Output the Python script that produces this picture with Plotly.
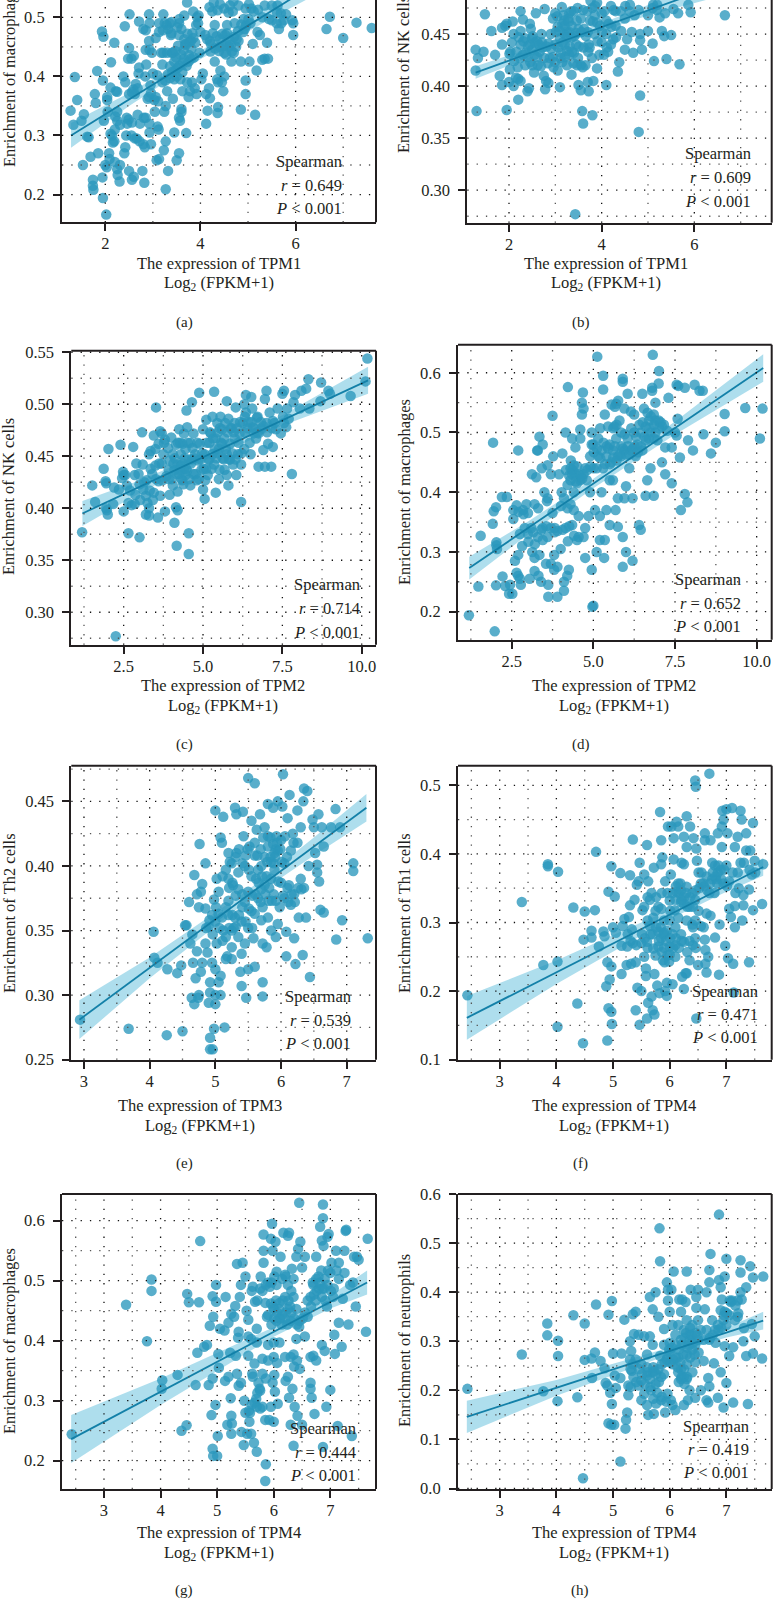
import plotly.graph_objects as go

W, H = 773, 1599

tpm1_macro = [(1.27,.342),(1.33,.318),(1.36,.399),(1.41,.360),(1.50,.325),(1.55,.336),(1.53,.250),(1.62,.298),(1.65,.297),(1.69,.264),(1.78,.370),(1.80,.355),(1.74,.225),(1.74,.215),(1.75,.208),(1.85,.270),(1.83,.409),(1.93,.476),(1.96,.467),(1.95,.393),(1.94,.229),(1.95,.194),(2.02,.166),(2.0,.25),(2.03,.246),(2.04,.365),(2.04,.36),(1.97,.325),(2.05,.34),(2.12,.424),(2.11,.381),(2.19,.457),(2.25,.374),(2.22,.375),(2.08,.27),(2.09,.26),(2.14,.30),(2.16,.288),(2.19,.29),(2.2,.31),(2.25,.34),(2.25,.325),(2.2,.255),(2.25,.243),(2.26,.233),(2.3,.222),(2.31,.25),(2.38,.40),(2.42,.39),(2.46,.32),(2.45,.33),(2.44,.30),(2.4,.27),(2.42,.28),(2.5,.24),(2.56,.225),(2.6,.23),(2.51,.505),(2.41,.485),(2.5,.448),(2.48,.43),(2.55,.43),(2.6,.435),(2.5,.37),(2.55,.30),(2.62,.295),(2.66,.295),(2.72,.29),(2.62,.37),(2.68,.38),(2.7,.405),(2.71,.415),(2.71,.493),(2.8,.48),(2.85,.478),(2.68,.335),(2.73,.32),(2.81,.33),(2.85,.33),(2.8,.285),(2.83,.28),(2.84,.4),(2.82,.22),(2.78,.24),(2.85,.445),(2.86,.42),(2.92,.505),(2.93,.49),(2.92,.46),(2.93,.445),(2.98,.44),(3.0,.405),(2.95,.385),(2.92,.365),(2.93,.32),(2.93,.305),(2.96,.285),(3.04,.34),(3.03,.36),(3.06,.365),(3.1,.315),(3.12,.31),(3.13,.26),(3.08,.258),(3.13,.475),(3.06,.465),(3.13,.49),(3.18,.44),(3.2,.42),(3.2,.39),(3.22,.44),(3.22,.505),(3.25,.49),(3.27,.29),(3.23,.275),(3.24,.34),(3.27,.35),(3.3,.375),(3.32,.48),(3.3,.44),(3.32,.24),(3.27,.209),(3.4,.44),(3.42,.362),(3.45,.395),(3.45,.305),(3.5,.258),(3.55,.27),(3.35,.49),(3.38,.47),(3.42,.44),(3.45,.425),(3.47,.41),(3.5,.40),(3.52,.415),(3.55,.47),(3.55,.49),(3.58,.395),(3.6,.48),(3.6,.345),(3.55,.33),(3.57,.325),(3.6,.34),(3.62,.375),(3.65,.43),(3.65,.445),(3.68,.455),(3.7,.304),(3.72,.39),(3.72,.525),(3.75,.365),(3.75,.425),(3.78,.375),(3.8,.43),(3.8,.46),(3.82,.39),(3.85,.51),(3.85,.465),(3.88,.38),(3.92,.37),(3.93,.50),(3.95,.49),(3.98,.44),(4.0,.475),(4.02,.395),(4.05,.405),(4.1,.47),(4.12,.37),(4.15,.342),(4.12,.32),(4.18,.38),(4.2,.363),(4.2,.46),(4.22,.455),(4.25,.51),(4.28,.525),(4.3,.487),(4.3,.425),(4.35,.395),(4.37,.39),(4.37,.348),(4.36,.338),(4.4,.45),(4.42,.41),(4.45,.39),(4.48,.375),(4.5,.40),(4.5,.44),(4.52,.47),(4.55,.455),(4.6,.45),(4.62,.52),(4.65,.425),(4.68,.51),(4.7,.44),(4.72,.49),(4.75,.45),(4.8,.46),(4.85,.425),(4.85,.344),(4.9,.475),(4.93,.48),(4.95,.393),(4.95,.37),(4.95,.515),(5.03,.425),(5.05,.49),(5.07,.515),(5.1,.455),(5.12,.51),(5.15,.335),(5.2,.475),(5.18,.41),(5.25,.47),(5.3,.428),(5.35,.43),(5.4,.457),(5.42,.43),(5.5,.495),(5.6,.49),(5.62,.52),(5.65,.48),(5.7,.49),(5.75,.495),(5.8,.505),(5.95,.49),(5.95,.47),(5.93,.495),(6.65,.48),(6.72,.501),(7.0,.465),(7.28,.491),(7.6,.482),(5.3,.50),(5.35,.52),(5.5,.52),(4.8,.52),(4.5,.515),
(3.31,.403),(3.36,.417),(3.41,.408),(3.47,.443),(3.49,.432),(3.56,.418),(3.53,.452),(3.62,.407),(3.59,.437),(3.66,.463),(3.64,.423),(3.71,.418),(3.69,.453),(3.73,.472),(3.76,.436),(3.77,.458),(3.81,.447),(3.83,.473),(3.86,.432),(3.91,.487),(3.89,.457),(3.96,.503),(4.14,.463),(4.21,.442),(4.26,.473),(4.31,.447),(4.34,.468),(4.41,.463),(4.46,.472),(4.49,.452),(4.56,.473),(4.61,.462),(4.64,.453),(4.71,.467),(4.76,.463),(4.79,.477),(4.86,.488),(4.91,.497),(4.96,.486),(5.01,.497),(4.66,.442),(4.54,.437),(4.39,.443),(3.29,.487),(3.21,.478),(3.39,.473),(2.89,.362),(2.96,.372),(3.11,.358),(2.64,.387),(2.59,.378),(2.56,.373),(3.09,.402),(3.26,.393),(3.36,.397),(3.51,.483),(3.39,.492),(3.56,.497),(3.66,.503),(4.19,.517),(4.36,.512),(4.41,.522),(4.59,.508),(4.56,.487),(4.69,.527),(5.02,.522),(5.21,.513),(5.44,.497),(5.69,.507),(5.61,.508),(2.21,.332),(2.31,.318),(2.11,.303),(2.49,.327),(2.56,.322)]

tpm1_nk = [(1.3,.376),(1.28,.415),(1.28,.435),(1.33,.427),(1.45,.433),(1.48,.469),(1.62,.453),(1.7,.43),(1.8,.41),(1.85,.401),(1.85,.44),(1.85,.456),(1.92,.458),(1.95,.46),(2.0,.404),(1.95,.377),(2.02,.416),(2.03,.433),(2.08,.462),(2.1,.40),(2.1,.45),(2.15,.408),(2.2,.407),(2.2,.387),(2.25,.405),(2.25,.44),(2.25,.453),(2.25,.472),(2.3,.464),(2.3,.43),(2.35,.42),(2.4,.395),(2.43,.398),(2.45,.44),(2.45,.46),(2.47,.455),(2.5,.42),(2.5,.435),(2.55,.43),(2.58,.47),(2.62,.42),(2.65,.44),(2.7,.45),(2.75,.41),(2.78,.397),(2.77,.474),(2.8,.405),(2.85,.403),(2.88,.427),(2.9,.45),(2.95,.465),(3,.47),(3.0,.44),(3.05,.415),(3.1,.399),(3.12,.432),(3.15,.46),(3.2,.44),(3.2,.45),(3.25,.42),(3.28,.465),(3.3,.43),(3.3,.47),(3.35,.447),(3.35,.411),(3.4,.472),(3.45,.44),(3.47,.42),(3.48,.475),(3.5,.401),(3.5,.455),(3.55,.396),(3.55,.465),(3.55,.42),(3.58,.376),(3.6,.364),(3.62,.455),(3.65,.42),(3.7,.404),(3.72,.395),(3.72,.44),(3.75,.463),(3.8,.475),(3.8,.372),(3.82,.405),(3.85,.45),(3.9,.417),(3.95,.43),(3.9,.48),(4,.47),(4.05,.43),(4.1,.401),(4.1,.45),(4.15,.46),(4.2,.44),(4.25,.445),(4.3,.472),(4.35,.414),(4.38,.423),(4.42,.453),(4.5,.435),(4.5,.465),(4.55,.445),(4.65,.452),(4.68,.432),(4.8,.356),(4.83,.391),(4.83,.45),(4.83,.444),(4.87,.435),(5,.453),(5.1,.441),(5.13,.424),(5.1,.475),(5.3,.453),(5.35,.448),(5.37,.47),(5.4,.426),(5.5,.449),(5.55,.474),(5.65,.47),(5.68,.421),(5.87,.478),(5.92,.471),(6.66,.468),(3.43,.277),(2.35,.446),(2.6,.443),(2.72,.437),(2.85,.441),(2.95,.428),(3.05,.457),(3.1,.446),(3.15,.423),(3.18,.468),(3.25,.452),(3.25,.434),(3.35,.458),(3.4,.432),(3.45,.451),(3.6,.473),(3.7,.452),(3.85,.468),(3.9,.461),(4.0,.442),(4.1,.463),(4.2,.477),(4.3,.458),(4.6,.472),(4.8,.473),(5.0,.468),(5.2,.478),(5.25,.466),(3.3,.452),(3.2,.458),(2.4,.428),(2.5,.446),
(2.01,.431),(2.06,.442),(2.11,.424),(2.16,.433),(2.21,.447),(2.19,.418),(2.24,.427),(2.31,.443),(2.36,.432),(2.41,.438),(2.46,.423),(2.51,.448),(2.56,.442),(2.54,.413),(2.61,.428),(2.66,.433),(2.69,.419),(2.71,.442),(2.76,.427),(2.81,.438),(2.84,.422),(2.91,.436),(2.96,.418),(3.01,.452),(2.99,.423),(3.06,.437),(3.04,.467),(3.11,.427),(3.09,.453),(3.16,.442),(3.14,.476),(3.21,.428),(3.19,.463),(3.26,.447),(3.31,.438),(3.29,.462),(3.36,.433),(3.34,.472),(3.41,.448),(3.39,.422),(3.46,.463),(3.51,.438),(3.49,.427),(3.56,.452),(3.61,.437),(3.59,.418),(3.66,.448),(3.71,.433),(3.69,.472),(3.76,.482),(3.74,.437),(3.81,.462),(3.79,.427),(3.86,.477),(3.91,.443),(3.96,.458),(4.01,.452),(4.06,.472),(4.11,.437),(4.14,.433),(4.21,.457),(4.26,.473),(4.31,.447),(4.41,.472),(4.51,.477),(4.61,.478),(4.71,.468),(5.11,.478),(5.19,.473)]

tpm2_nk = [(1.19,.377),(1.51,.422),(1.6,.406),(1.87,.438),(1.93,.426),(1.95,.424),(1.95,.40),(1.97,.398),(2.0,.394),(2.02,.457),(2.17,.404),(2.4,.461),(2.8,.459),(2.25,.277),(2.65,.376),(3.0,.372),(2.5,.397),(2.48,.435),(2.45,.429),(2.5,.432),(2.55,.432),(2.35,.418),(2.2,.42),(3.08,.473),(3.3,.393),(3.3,.40),(3.58,.391),(3.52,.497),(3.65,.474),(3.45,.47),(3.8,.397),(4.1,.386),(4.17,.364),(4.55,.376),(4.55,.356),(4.15,.401),(4.2,.398),(4.48,.494),(4.65,.502),(4.88,.511),(5.35,.512),(5.05,.409),(5.4,.415),(5.75,.503),(6.03,.497),(5.8,.422),(6.2,.406),(6.35,.509),(6.3,.50),(6.75,.44),(6.95,.44),(7.15,.44),(7.8,.433),(7.2,.459),(7.5,.51),(7.55,.513),(7.9,.509),(8.1,.513),(8.25,.515),(8.32,.524),(8.72,.521),(9.0,.51),(9.65,.508),(10.12,.522),(10.18,.544),(7.0,.513),(6.95,.505),(2.6,.422),(2.65,.405),(2.7,.417),(2.75,.403),(2.85,.404),(2.85,.432),(2.9,.443),(3.0,.423),(3.1,.442),(3.15,.425),(3.2,.412),(3.2,.394),(3.25,.405),(3.3,.452),(3.35,.455),(3.35,.438),(3.4,.433),(3.45,.415),(3.5,.457),(3.5,.441),(3.6,.426),(3.6,.462),(3.65,.412),(3.7,.472),(3.7,.443),(3.75,.452),(3.8,.466),(3.85,.431),(3.9,.458),(3.95,.413),(3.95,.446),(4.0,.468),(4.05,.422),(4.05,.452),(4.1,.437),(4.15,.461),(4.2,.442),(4.2,.416),(4.25,.433),(4.25,.476),(4.3,.452),(4.35,.462),(4.35,.427),(4.4,.438),(4.4,.472),(4.45,.457),(4.5,.436),(4.5,.478),(4.55,.447),(4.6,.422),(4.6,.463),(4.7,.433),(4.7,.472),(4.75,.452),(4.8,.427),(4.85,.446),(4.9,.462),(4.95,.437),(5.0,.418),(5.0,.476),(5.05,.452),(5.1,.438),(5.1,.485),(5.15,.432),(5.2,.463),(5.25,.472),(5.3,.452),(5.3,.488),(5.35,.442),(5.4,.467),(5.45,.482),(5.5,.457),(5.5,.428),(5.55,.488),(5.6,.462),(5.65,.447),(5.7,.482),(5.75,.452),(5.75,.432),(5.8,.486),(5.85,.462),(5.9,.477),(5.95,.442),(6.0,.467),(6.0,.482),(6.05,.432),(6.1,.452),(6.15,.472),(6.2,.442),(6.25,.482),(6.3,.457),(6.35,.492),(6.4,.477),(6.5,.452),(6.55,.496),(6.6,.472),(6.7,.487),(6.75,.472),(6.85,.477),(6.9,.456),(7.0,.482),(7.05,.462),(7.1,.492),(7.25,.482),(7.3,.476),(7.35,.496),(7.45,.472),(7.55,.482),(7.65,.496),(7.7,.486),(7.85,.502),(8.05,.496),(8.35,.496),(8.7,.503),(8.95,.513),(4.3,.441),(4.45,.432),(4.65,.447),(5.2,.447),(5.45,.453),(5.6,.476),(5.85,.447),(6.6,.477),(6.9,.479),(7.2,.484),
(3.92,.437),(4.02,.428),(4.07,.443),(4.11,.448),(4.17,.433),(4.21,.463),(4.27,.437),(4.32,.428),(4.28,.463),(4.37,.443),(4.42,.448),(4.38,.423),(4.47,.438),(4.52,.463),(4.57,.428),(4.62,.443),(4.67,.458),(4.72,.448),(4.77,.433),(4.82,.463),(4.87,.428),(4.92,.447),(4.97,.453),(5.02,.438),(5.07,.427),(5.12,.463),(5.17,.447),(5.22,.473),(5.27,.438),(5.32,.467),(5.37,.457),(5.42,.448),(5.47,.473),(5.52,.437),(5.57,.463),(5.53,.477),(5.62,.448),(5.67,.467),(5.72,.457),(5.68,.437),(5.77,.473),(5.82,.447),(5.87,.477),(5.92,.453),(5.97,.473),(6.02,.447),(6.07,.477),(6.12,.463),(6.17,.483),(6.22,.453),(6.32,.473),(6.42,.483),(6.47,.463),(6.57,.478),(6.67,.467),(6.72,.473),(6.82,.483),(7.02,.473),(7.17,.477),(3.02,.408),(3.12,.418),(3.22,.427),(3.32,.417),(3.42,.408),(3.52,.428),(3.62,.443),(3.72,.427),(3.77,.463),(3.92,.428),(2.87,.413),(2.97,.433),(6.32,.488),(6.52,.507),(6.72,.488),(6.52,.483),(7.52,.488),(7.62,.478)]

tpm2_macro = [(1.19,.194),(1.48,.242),(1.55,.327),(1.93,.483),(1.92,.347),(1.95,.368),(2.02,.375),(2.03,.311),(2.03,.316),(2.05,.305),(2.02,.244),(1.98,.167),(2.2,.392),(2.35,.392),(2.22,.259),(2.3,.243),(2.42,.23),(2.45,.245),(2.52,.23),(2.55,.37),(2.55,.355),(2.6,.285),(2.65,.265),(2.7,.295),(2.7,.47),(2.65,.378),(2.7,.26),(2.75,.255),(2.78,.245),(2.75,.33),(2.82,.31),(2.85,.37),(2.9,.34),(2.95,.38),(3.0,.365),(3.05,.255),(3.12,.43),(3.13,.30),(3.2,.29),(3.25,.425),(3.2,.38),(3.2,.268),(3.28,.47),(3.3,.47),(3.35,.493),(3.32,.26),(3.35,.295),(3.4,.25),(3.42,.44),(3.45,.48),(3.45,.32),(3.5,.40),(3.55,.28),(3.58,.385),(3.6,.445),(3.62,.225),(3.62,.245),(3.7,.43),(3.7,.28),(3.75,.528),(3.77,.46),(3.8,.27),(3.8,.295),(3.82,.34),(3.9,.225),(3.9,.275),(3.95,.43),(4.0,.305),(4.03,.40),(4.05,.465),(4.1,.25),(4.1,.235),(4.15,.50),(4.2,.26),(4.22,.318),(4.25,.27),(4.22,.576),(4.3,.44),(4.3,.42),(4.35,.43),(4.35,.49),(4.4,.445),(4.4,.37),(4.45,.475),(4.5,.415),(4.5,.32),(4.55,.36),(4.55,.43),(4.6,.49),(4.6,.505),(4.65,.55),(4.68,.567),(4.7,.54),(4.65,.53),(4.7,.43),(4.75,.34),(4.75,.29),(4.8,.42),(4.85,.36),(4.9,.40),(4.95,.48),(4.95,.50),(4.95,.27),(5.0,.21),(4.97,.208),(5.0,.44),(5.05,.37),(5.1,.30),(5.1,.44),(5.12,.627),(5.15,.49),(5.2,.36),(5.2,.32),(5.25,.47),(5.25,.40),(5.3,.595),(5.3,.572),(5.33,.29),(5.35,.53),(5.35,.32),(5.4,.37),(5.45,.51),(5.5,.345),(5.5,.48),(5.55,.45),(5.6,.42),(5.65,.51),(5.68,.37),(5.7,.548),(5.75,.342),(5.75,.39),(5.8,.52),(5.85,.46),(5.9,.585),(5.9,.59),(5.95,.54),(5.9,.325),(5.9,.275),(6.0,.30),(6.0,.41),(6.05,.565),(6.1,.44),(6.15,.535),(6.2,.285),(6.2,.39),(6.25,.53),(6.3,.46),(6.4,.345),(6.45,.337),(6.5,.565),(6.55,.54),(6.6,.394),(6.65,.42),(6.7,.49),(6.75,.44),(6.8,.57),(6.8,.575),(6.85,.53),(6.9,.55),(6.9,.52),(7.01,.603),(6.82,.63),(7.0,.582),(7.3,.558),(7.6,.578),(7.55,.58),(7.8,.575),(7.58,.523),(8.1,.58),(8.25,.57),(8.35,.57),(8.37,.497),(7.9,.487),(8.05,.47),(8.6,.465),(8.75,.483),(9.02,.531),(9.02,.502),(9.65,.541),(10.18,.54),(10.1,.49),(7.65,.458),(7.4,.415),(7.2,.43),(7.1,.45),(7.8,.397),(7.88,.383),(7.68,.37),(6.85,.394),(5.95,.39),(3.0,.33),(3.1,.34),(3.3,.325),(3.45,.34),(3.6,.325),(3.7,.34),(3.9,.335),(4.15,.34),(4.35,.345),(4.55,.325),(4.7,.325),(3.6,.39),(3.75,.365),(4.1,.39),(4.3,.38),(4.4,.40),(4.6,.42),(4.75,.44),(4.9,.46),(5.0,.48),(5.15,.46),(5.3,.44),(5.4,.46),(5.5,.42),(5.6,.47),(5.7,.49),(5.75,.46),(5.85,.50),(5.95,.47),(6.05,.49),(6.15,.47),(6.25,.50),(6.35,.48),(6.45,.50),(6.5,.47),(6.6,.51),(6.7,.52),(6.75,.50),(6.85,.49),(6.9,.50),(7.0,.52),(7.1,.51),(7.2,.475),(7.4,.475),(7.5,.50),(7.55,.495),
(4.16,.437),(4.21,.412),(4.26,.428),(4.31,.453),(4.36,.437),(4.41,.433),(4.46,.418),(4.51,.443),(4.61,.427),(4.66,.423),(4.81,.437),(4.91,.443),(5.01,.467),(5.11,.473),(5.21,.457),(5.31,.483),(5.36,.447),(5.41,.477),(5.46,.473),(5.51,.447),(5.61,.458),(5.66,.477),(5.71,.453),(5.81,.463),(5.86,.477),(5.91,.473),(5.96,.497),(6.01,.463),(6.06,.477),(6.11,.463),(6.16,.507),(6.21,.473),(6.26,.477),(6.31,.493),(6.36,.467),(6.41,.513),(6.46,.477),(6.51,.517),(6.56,.493),(6.61,.487),(6.66,.533),(6.71,.507),(6.76,.527),(6.86,.513),(6.96,.487),(7.01,.507),(7.06,.517),(7.16,.513),(7.26,.503),(5.56,.547),(5.66,.543),(5.76,.553),(5.61,.507),(5.71,.513),(5.21,.507),(3.16,.333),(3.41,.337),(3.56,.343),(3.81,.333),(4.06,.337),(4.26,.343),(4.41,.327),(3.21,.313),(3.01,.317),(3.31,.373),(4.01,.377),(4.21,.373),(2.71,.367),(2.86,.363)]

tpm3_th2 = [(2.94,.281),(3.68,.274),(4.26,.269),(4.5,.272),(4.06,.349),(4.07,.329),(4.12,.325),(4.27,.32),(4.42,.317),(4.48,.323),(4.54,.354),(4.56,.354),(4.6,.372),(4.62,.34),(4.65,.347),(4.68,.293),(4.64,.298),(4.66,.325),(4.7,.313),(4.72,.334),(4.72,.378),(4.74,.298),(4.75,.3),(4.75,.368),(4.76,.417),(4.68,.393),(4.8,.386),(4.78,.318),(4.8,.325),(4.78,.38),(4.85,.367),(4.85,.34),(4.85,.402),(4.88,.333),(4.9,.294),(4.92,.267),(4.92,.258),(4.96,.258),(4.92,.302),(4.92,.31),(4.95,.325),(4.98,.374),(5.0,.293),(4.98,.274),(5.0,.3),(5.0,.32),(5.0,.443),(5.02,.39),(5.02,.34),(5.05,.38),(5.08,.422),(5.05,.31),(5.08,.315),(5.1,.36),(5.1,.418),(5.12,.35),(5.08,.30),(5.14,.275),(5.12,.438),(5.16,.345),(5.2,.41),(5.2,.373),(5.18,.33),(5.2,.39),(5.22,.403),(5.25,.35),(5.25,.337),(5.25,.328),(5.27,.385),(5.3,.445),(5.3,.36),(5.32,.44),(5.32,.41),(5.35,.395),(5.35,.345),(5.38,.318),(5.4,.332),(5.42,.442),(5.4,.307),(5.43,.423),(5.45,.4),(5.45,.34),(5.47,.298),(5.5,.38),(5.5,.468),(5.5,.32),(5.52,.415),(5.55,.365),(5.55,.435),(5.58,.344),(5.6,.464),(5.62,.39),(5.6,.322),(5.63,.428),(5.65,.375),(5.68,.44),(5.7,.4),(5.72,.31),(5.72,.299),(5.72,.34),(5.75,.385),(5.75,.43),(5.78,.337),(5.8,.448),(5.8,.415),(5.8,.36),(5.85,.39),(5.85,.35),(5.88,.445),(5.9,.41),(5.92,.345),(5.95,.45),(5.95,.355),(6.0,.42),(6.02,.446),(6.03,.471),(6.05,.375),(6.08,.349),(6.08,.33),(6.1,.437),(6.12,.385),(6.13,.455),(6.15,.37),(6.18,.425),(6.2,.344),(6.22,.324),(6.25,.443),(6.27,.36),(6.3,.43),(6.3,.39),(6.33,.331),(6.34,.45),(6.35,.46),(6.38,.36),(6.4,.458),(6.42,.4),(6.44,.314),(6.48,.436),(6.5,.43),(6.52,.41),(6.55,.401),(6.55,.395),(6.57,.44),(6.58,.388),(6.6,.366),(6.62,.43),(6.65,.364),(6.65,.415),(6.76,.43),(6.84,.343),(6.83,.444),(6.9,.43),(6.93,.358),(7.1,.402),(7.1,.396),(7.32,.344),(5.25,.402),(5.35,.382),(5.45,.372),(5.55,.392),(5.6,.408),(5.65,.397),(5.7,.382),(5.72,.368),(5.75,.407),(5.78,.392),(5.82,.383),(5.85,.403),(5.88,.417),(5.9,.397),(5.92,.373),(5.95,.412),(5.98,.368),(6.05,.402),(6.1,.383),(6.15,.412),(6.2,.378),(5.2,.362),(5.28,.352),(5.4,.357),(5.5,.352),(5.6,.363),(5.7,.358),(5.0,.357),(4.95,.362),(5.05,.363),(4.9,.353),(5.6,.418),(5.8,.423),(5.92,.413),(6.0,.387),(6.25,.418),(6.35,.383),
(5.31,.407),(5.36,.413),(5.41,.402),(5.46,.408),(5.51,.397),(5.49,.413),(5.56,.377),(5.61,.378),(5.66,.387),(5.64,.408),(5.69,.372),(5.71,.392),(5.69,.413),(5.73,.422),(5.76,.378),(5.81,.373),(5.79,.403),(5.84,.407),(5.86,.373),(5.84,.422),(5.89,.402),(5.91,.407),(5.89,.378),(5.93,.423),(5.96,.388),(5.94,.418),(6.01,.403),(5.99,.413),(6.03,.377),(6.06,.423),(6.11,.372),(6.09,.407),(6.16,.378),(6.21,.372),(6.19,.418),(6.26,.383),(6.31,.382),(5.31,.377),(5.36,.362),(5.41,.378),(5.46,.357),(5.51,.367),(5.56,.352),(5.26,.362),(5.21,.352),(5.16,.368),(5.06,.352),(5.01,.368),(4.96,.347),(4.91,.358),(4.86,.352),(5.11,.342),(5.16,.328),(5.31,.353),(5.41,.368),(5.11,.392),(5.16,.397),(5.21,.383),(5.26,.387)]

tpm4_th1 = [(2.43,.194),(3.39,.33),(3.77,.238),(3.85,.385),(3.85,.382),(4.03,.374),(4.02,.243),(4.02,.148),(4.3,.322),(4.37,.182),(4.47,.124),(4.48,.275),(4.5,.316),(4.62,.288),(4.62,.278),(4.68,.318),(4.7,.403),(4.75,.265),(4.83,.287),(4.85,.28),(4.88,.207),(4.9,.128),(4.9,.242),(4.92,.345),(4.92,.175),(4.94,.217),(4.97,.236),(4.97,.17),(4.97,.382),(4.98,.152),(5.0,.293),(5.03,.338),(5.05,.285),(5.15,.266),(5.15,.225),(5.13,.372),(5.17,.295),(5.2,.305),(5.24,.238),(5.25,.265),(5.28,.308),(5.3,.369),(5.3,.325),(5.32,.24),(5.33,.29),(5.35,.421),(5.35,.27),(5.38,.333),(5.4,.242),(5.4,.172),(5.42,.355),(5.43,.205),(5.45,.36),(5.47,.151),(5.47,.387),(5.5,.2),(5.5,.27),(5.52,.318),(5.55,.25),(5.55,.37),(5.58,.233),(5.58,.222),(5.6,.413),(5.6,.16),(5.62,.183),(5.62,.36),(5.65,.295),(5.68,.192),(5.68,.343),(5.7,.172),(5.72,.38),(5.73,.166),(5.73,.225),(5.78,.208),(5.8,.265),(5.82,.197),(5.83,.461),(5.85,.42),(5.85,.385),(5.85,.32),(5.87,.395),(5.88,.245),(5.9,.285),(5.92,.2),(5.92,.36),(5.95,.193),(5.97,.44),(5.95,.212),(6.0,.265),(6.02,.37),(6.03,.44),(6.05,.21),(6.07,.392),(6.07,.423),(6.1,.25),(6.12,.345),(6.12,.447),(6.15,.44),(6.2,.33),(6.22,.221),(6.25,.425),(6.25,.385),(6.25,.203),(6.28,.226),(6.3,.226),(6.3,.41),(6.3,.455),(6.35,.245),(6.36,.44),(6.4,.297),(6.42,.423),(6.45,.507),(6.46,.498),(6.47,.408),(6.47,.16),(6.48,.39),(6.5,.238),(6.52,.35),(6.55,.295),(6.62,.43),(6.62,.42),(6.62,.275),(6.63,.24),(6.63,.26),(6.65,.227),(6.68,.25),(6.7,.517),(6.72,.42),(6.72,.31),(6.8,.278),(6.85,.43),(6.87,.224),(6.88,.297),(6.92,.44),(6.92,.41),(6.93,.463),(6.95,.45),(6.98,.266),(7.0,.465),(7.02,.43),(7.03,.248),(7.05,.32),(7.05,.36),(7.08,.308),(7.1,.467),(7.12,.24),(7.13,.198),(7.15,.293),(7.15,.324),(7.15,.41),(7.2,.425),(7.22,.35),(7.25,.463),(7.27,.45),(7.28,.303),(7.3,.34),(7.3,.325),(7.35,.405),(7.35,.43),(7.4,.242),(7.4,.348),(7.42,.405),(7.45,.37),(7.47,.318),(7.47,.445),(7.5,.39),(7.63,.327),(7.65,.385),(5.6,.272),(5.7,.283),(5.75,.252),(5.8,.287),(5.85,.277),(5.9,.263),(5.95,.288),(6.0,.253),(6.05,.283),(6.1,.267),(6.15,.307),(6.2,.283),(6.25,.272),(6.35,.273),(6.45,.277),(6.0,.332),(6.05,.343),(6.1,.333),(6.15,.357),(6.2,.347),(6.25,.327),(6.3,.352),(6.35,.323),(6.4,.343),(6.45,.333),(6.55,.357),(6.65,.367),(6.7,.343),(6.75,.363),(6.8,.383),(6.85,.373),(6.9,.377),(6.95,.357),(7.0,.383),(5.55,.323),(5.65,.333),(5.75,.317),(5.8,.323),(5.9,.303),(6.0,.303),(6.1,.293),(6.3,.303),(6.45,.303),(6.6,.293),(6.65,.313),(6.75,.387),(6.82,.363),(7.2,.373),(7.25,.387),
(5.56,.277),(5.61,.263),(5.66,.283),(5.71,.262),(5.76,.293),(5.81,.273),(5.86,.257),(5.84,.293),(5.91,.242),(5.89,.283),(5.96,.252),(5.94,.273),(6.01,.277),(5.99,.243),(6.06,.263),(6.11,.277),(6.16,.263),(6.21,.273),(6.31,.257),(6.41,.267),(6.46,.263),(5.96,.343),(6.01,.317),(6.11,.353),(6.09,.318),(6.16,.343),(6.21,.333),(6.19,.357),(6.26,.337),(6.31,.323),(6.29,.343),(6.36,.337),(6.41,.323),(6.46,.347),(6.51,.317),(6.61,.353),(6.71,.357),(6.76,.373),(6.81,.367),(6.86,.383),(6.84,.357),(6.91,.363),(6.96,.377),(6.79,.343),(6.59,.357),(6.56,.373),(6.51,.373),(6.66,.347),(7.01,.353),(7.11,.373),(7.16,.343),(7.31,.387),(7.41,.377),(7.51,.373),(5.31,.273),(5.41,.267),(5.51,.283),(5.26,.283),(5.61,.303),(5.71,.307),(5.76,.337),(5.86,.343),(5.61,.337),(6.41,.293),(6.21,.387)]

tpm4_macro = [(2.43,.244),(3.39,.46),(3.76,.399),(3.84,.502),(3.84,.483),(4.03,.334),(4.02,.32),(4.3,.343),(4.37,.25),(4.46,.259),(4.47,.478),(4.5,.464),(4.62,.326),(4.65,.38),(4.68,.464),(4.7,.566),(4.77,.39),(4.82,.393),(4.85,.326),(4.87,.425),(4.9,.276),(4.92,.337),(4.92,.474),(4.93,.44),(4.92,.22),(4.93,.208),(4.97,.293),(4.98,.465),(4.98,.493),(5.0,.208),(5.01,.241),(5.02,.378),(5.03,.355),(5.05,.42),(5.13,.417),(5.14,.333),(5.15,.473),(5.18,.26),(5.2,.34),(5.2,.43),(5.23,.38),(5.24,.304),(5.25,.445),(5.25,.275),(5.26,.262),(5.25,.245),(5.3,.44),(5.32,.458),(5.33,.375),(5.35,.345),(5.35,.528),(5.37,.405),(5.38,.415),(5.38,.325),(5.4,.473),(5.42,.33),(5.42,.493),(5.43,.248),(5.45,.53),(5.47,.226),(5.48,.3),(5.5,.28),(5.5,.507),(5.52,.45),(5.53,.245),(5.55,.435),(5.55,.375),(5.57,.265),(5.58,.28),(5.6,.245),(5.62,.345),(5.63,.34),(5.63,.49),(5.65,.23),(5.66,.362),(5.67,.465),(5.7,.215),(5.7,.29),(5.7,.42),(5.73,.33),(5.75,.32),(5.77,.507),(5.8,.29),(5.8,.345),(5.8,.37),(5.82,.53),(5.82,.577),(5.82,.55),(5.85,.268),(5.85,.166),(5.86,.194),(5.88,.44),(5.92,.268),(5.93,.49),(5.95,.29),(5.95,.57),(5.97,.595),(5.98,.55),(5.98,.33),(6.0,.265),(6.02,.315),(6.03,.565),(6.05,.515),(6.07,.295),(6.12,.54),(6.17,.58),(6.2,.51),(6.25,.34),(6.25,.575),(6.27,.58),(6.27,.305),(6.3,.26),(6.32,.52),(6.33,.32),(6.35,.225),(6.37,.29),(6.4,.54),(6.42,.275),(6.43,.553),(6.45,.63),(6.47,.565),(6.5,.26),(6.5,.522),(6.55,.54),(6.6,.44),(6.65,.33),(6.65,.32),(6.67,.305),(6.7,.375),(6.72,.278),(6.75,.54),(6.82,.59),(6.85,.567),(6.87,.604),(6.87,.627),(6.87,.223),(6.88,.558),(6.93,.29),(6.95,.573),(6.97,.578),(7.0,.318),(7.02,.53),(7.07,.41),(7.08,.378),(7.1,.55),(7.13,.258),(7.15,.43),(7.15,.53),(7.2,.39),(7.22,.47),(7.25,.55),(7.27,.583),(7.28,.585),(7.32,.427),(7.38,.241),(7.42,.54),(7.45,.457),(7.47,.54),(7.5,.535),(7.63,.415),(7.66,.57),(5.9,.443),(5.95,.462),(6.0,.453),(6.05,.433),(6.1,.463),(6.15,.443),(6.2,.473),(6.25,.453),(6.3,.433),(6.35,.473),(6.4,.453),(5.8,.483),(5.85,.463),(5.9,.497),(6.05,.493),(6.15,.503),(6.25,.493),(6.35,.503),(6.7,.493),(6.75,.503),(6.8,.487),(6.85,.473),(6.9,.503),(6.95,.493),(7.0,.513),(6.65,.473),(6.6,.467),(6.55,.447),(6.45,.423),(6.85,.393),(6.9,.383),(7.05,.473),(6.1,.397),(6.2,.373),(6.3,.373),(6.35,.377),(5.9,.367),(6.0,.373),(5.7,.397),(5.6,.403),(5.55,.407),(5.9,.393),(6.0,.397),(6.4,.403),(6.55,.407),(6.65,.373),(6.75,.367),(7.35,.493),(7.25,.513),(7.15,.503),(7.4,.497),
(5.96,.427),(6.01,.437),(5.99,.457),(6.06,.447),(6.04,.467),(6.11,.437),(6.09,.453),(6.16,.467),(6.14,.427),(6.21,.447),(6.19,.437),(6.26,.467),(6.24,.427),(6.31,.447),(6.29,.457),(6.36,.437),(6.41,.427),(6.46,.433),(6.51,.437),(6.66,.457),(6.71,.477),(6.69,.497),(6.76,.483),(6.74,.467),(6.81,.497),(6.79,.507),(6.86,.487),(6.84,.517),(6.91,.467),(6.89,.487),(6.96,.517),(6.94,.457),(7.01,.483),(7.06,.487),(7.11,.517),(5.61,.483),(5.71,.467),(5.76,.487),(5.86,.493),(5.96,.497),(6.01,.507),(6.21,.507),(6.31,.483),(5.71,.313),(5.76,.317),(5.69,.303),(5.66,.297),(5.61,.293),(5.56,.283),(5.76,.287),(6.01,.343),(6.06,.363),(5.86,.337),(6.21,.333),(6.36,.357),(6.41,.367),(6.46,.353)]

tpm4_neutro = [(2.43,.203),(3.39,.273),(3.77,.198),(3.84,.336),(3.84,.312),(4.03,.301),(4.03,.27),(4.02,.178),(4.3,.353),(4.37,.186),(4.47,.021),(4.5,.336),(4.5,.262),(4.63,.225),(4.62,.265),(4.68,.277),(4.7,.375),(4.78,.26),(4.85,.245),(4.87,.215),(4.9,.21),(4.92,.354),(4.92,.133),(4.95,.195),(4.97,.13),(4.98,.172),(4.98,.382),(5.0,.275),(5.02,.13),(5.03,.23),(5.05,.205),(5.13,.055),(5.13,.225),(5.15,.275),(5.2,.344),(5.22,.122),(5.23,.14),(5.25,.155),(5.27,.19),(5.27,.21),(5.3,.3),(5.32,.28),(5.33,.24),(5.35,.355),(5.37,.315),(5.4,.36),(5.45,.21),(5.5,.18),(5.5,.22),(5.55,.31),(5.6,.17),(5.6,.23),(5.62,.15),(5.65,.39),(5.65,.31),(5.67,.2),(5.7,.365),(5.72,.152),(5.73,.24),(5.75,.4),(5.78,.195),(5.8,.35),(5.82,.53),(5.83,.463),(5.83,.27),(5.85,.18),(5.9,.325),(5.92,.155),(5.95,.42),(5.97,.405),(5.97,.383),(6.0,.36),(6.02,.18),(6.03,.405),(6.05,.17),(6.07,.442),(6.1,.16),(6.17,.385),(6.2,.36),(6.22,.385),(6.25,.17),(6.28,.38),(6.3,.442),(6.32,.18),(6.35,.2),(6.37,.405),(6.45,.185),(6.47,.368),(6.47,.39),(6.5,.405),(6.55,.2),(6.6,.26),(6.62,.365),(6.65,.4),(6.65,.18),(6.68,.175),(6.68,.225),(6.7,.42),(6.7,.208),(6.7,.445),(6.72,.478),(6.78,.255),(6.85,.185),(6.87,.425),(6.87,.558),(6.9,.41),(6.9,.237),(6.92,.385),(6.95,.165),(6.97,.432),(6.97,.36),(6.97,.29),(7.0,.468),(7.0,.215),(7.05,.27),(7.08,.38),(7.12,.175),(7.12,.288),(7.2,.35),(7.25,.465),(7.25,.44),(7.25,.4),(7.27,.385),(7.3,.3),(7.35,.27),(7.35,.41),(7.38,.172),(7.42,.453),(7.45,.335),(7.47,.275),(7.47,.43),(7.5,.31),(7.63,.265),(7.65,.432),(5.5,.253),(5.55,.193),(5.6,.247),(5.65,.223),(5.7,.237),(5.75,.213),(5.8,.243),(5.85,.227),(5.9,.233),(5.95,.263),(6.0,.277),(6.05,.253),(6.1,.293),(6.15,.267),(6.2,.243),(6.25,.227),(6.3,.223),(6.3,.273),(6.35,.303),(6.4,.283),(6.45,.257),(6.5,.303),(6.55,.323),(5.9,.293),(6.0,.297),(6.05,.333),(6.1,.313),(6.15,.333),(6.2,.303),(6.25,.323),(6.3,.343),(6.35,.313),(6.4,.333),(6.45,.293),(6.5,.343),(6.6,.303),(6.65,.323),(6.7,.303),(6.75,.343),(6.8,.323),(6.85,.333),(6.9,.363),(6.95,.343),(7.0,.333),(7.05,.353),(7.15,.343),(7.2,.383),(7.1,.383),(5.4,.263),(5.35,.253),(5.3,.263),(5.45,.313),(5.7,.293),(5.6,.273),(6.15,.237),(6.25,.243),(6.3,.253),(6.4,.237),(6.2,.223),
(5.96,.267),(6.01,.257),(5.99,.283),(6.06,.263),(6.04,.287),(6.11,.267),(6.16,.283),(6.14,.247),(6.21,.293),(6.19,.257),(6.26,.307),(6.24,.273),(6.31,.287),(6.29,.317),(6.36,.267),(6.34,.293),(6.36,.327),(6.41,.297),(6.39,.313),(6.46,.317),(6.44,.273),(6.51,.277),(6.49,.313),(6.16,.217),(6.21,.227),(6.31,.227),(6.26,.213),(5.61,.237),(5.71,.247),(5.76,.233),(5.81,.217),(5.86,.253),(5.91,.257),(5.56,.213),(5.66,.207),(5.71,.183),(5.76,.173),(5.86,.187),(5.96,.193),(5.94,.177),(6.71,.307),(6.76,.313),(6.81,.297),(6.86,.323),(6.91,.327),(6.96,.353),(7.01,.357),(7.06,.383),(7.21,.357),(7.16,.373),(7.31,.327),(5.31,.243),(5.36,.227),(5.46,.243),(5.51,.233),(5.41,.217),(5.31,.207)]

caption = ["(a)", "(b)", "(c)", "(d)", "(e)", "(f)", "(g)", "(h)"]
gene_titles = ["TPM1", "TPM1", "TPM2", "TPM2", "TPM3", "TPM4", "TPM4", "TPM4"]
cell_titles = ["macrophages", "NK cells", "NK cells", "macrophages", "Th2 cells", "Th1 cells", "macrophages", "neutrophils"]
r_text = ["0.649", "0.609", "0.714", "0.652", "0.539", "0.471", "0.444", "0.419"]

fit_x = [[1.28,2.5,4.0,5.5,7.6],[1.28,2.5,3.5,5.0,6.7],[1.2,3.0,5.0,7.5,10.2],[1.2,3.0,5.0,7.5,10.2],[2.93,4.0,5.5,6.5,7.3],[2.42,4.0,6.0,7.0,7.65],[2.42,4.0,6.0,7.0,7.65],[2.42,4.0,6.0,7.0,7.65]]
fit_y = [[.30,.361,.436,.511,.616],[.413,.4326,.4487,.4729,.50],[.395,.4206,.449,.4845,.523],[.273,.34,.4145,.5075,.608],[.281,.3211,.3774,.415,.445],[.161,.2275,.3116,.3537,.381],[.236,.3148,.4146,.4645,.497],[.146,.2052,.2802,.3177,.342]]
fit_half = [[.021,.011,.007,.012,.028],[.006,.004,.003,.005,.012],[.012,.006,.004,.005,.013],[.019,.011,.008,.011,.023],[.015,.008,.004,.007,.0106],[.032,.017,.007,.009,.013],[.04,.022,.008,.011,.02],[.033,.016,.007,.01,.018]]

panels = [
    dict(pts=tpm1_macro, px=(62,376,0,222.3), xr=(1.09,7.69), yr=(.153,.5293), xt=[2,4,6], yt=[.2,.3,.4,.5], xs=1, ys=.05, xf="d", yf=".1f", open_top=True,
         ty=74, tx=9, gx=218.7, gy=(263,283), cap=(184,322), sx=344, sy=(162,186,209)),
    dict(pts=tpm1_nk, px=(467.3,771.7,0,222.7), xr=(1.10,7.67), yr=(.2688,.4827), xt=[2,4,6], yt=[.30,.35,.40,.45], xs=1, ys=.025, xf="d", yf=".2f", open_top=True,
         ty=75, tx=404, gx=605.7, gy=(263,283), cap=(580.7,322), sx=752.7, sy=(154,177,201)),
    dict(pts=tpm2_nk, px=(71.3,376,350.7,644.7), xr=(.85,10.45), yr=(.2688,.5515), xt=[2.5,5,7.5,10], yt=[.30,.35,.40,.45,.50,.55], xs=1.25, ys=.025, xf=".1f", yf=".2f", open_top=False,
         ty=497, tx=9, gx=223, gy=(686,706), cap=(184,744), sx=361.7, sy=(584.3,608.3,632)),
    dict(pts=tpm2_macro, px=(458,771.7,344.7,639.7), xr=(.856,10.46), yr=(.153,.647), xt=[2.5,5,7.5,10], yt=[.2,.3,.4,.5,.6], xs=1.25, ys=.05, xf=".1f", yf=".1f", open_top=False,
         ty=492, tx=404, gx=614, gy=(686,706), cap=(580.7,744), sx=743.3, sy=(579.3,603.3,627)),
    dict(pts=tpm3_th2, px=(71.3,376,765.7,1059.7), xr=(2.807,7.446), yr=(.25,.4776), xt=[3,4,5,6,7], yt=[.25,.30,.35,.40,.45], xs=.5, ys=.025, xf="d", yf=".2f", open_top=False,
         ty=913, tx=9, gx=200, gy=(1105.7,1125.7), cap=(184,1163), sx=352.7, sy=(996,1020,1043.7)),
    dict(pts=tpm4_th1, px=(458,771.7,765.7,1059.7), xr=(2.264,7.80), yr=(.1,.5286), xt=[3,4,5,6,7], yt=[.1,.2,.3,.4,.5], xs=.5, ys=.05, xf="d", yf=".1f", open_top=False,
         ty=913, tx=404, gx=614, gy=(1105.7,1125.7), cap=(580.7,1163), sx=760, sy=(991,1014.3,1037.7)),
    dict(pts=tpm4_macro, px=(62,376,1194,1489), xr=(2.258,7.807), yr=(.1528,.6445), xt=[3,4,5,6,7], yt=[.2,.3,.4,.5,.6], xs=.5, ys=.05, xf="d", yf=".1f", open_top=False,
         ty=1341, tx=9, gx=219, gy=(1532.7,1552.7), cap=(184,1590.7), sx=357.7, sy=(1428.3,1452.3,1475.7)),
    dict(pts=tpm4_neutro, px=(458,771.7,1194,1489), xr=(2.264,7.80), yr=(-.001,.6), xt=[3,4,5,6,7], yt=[0,.1,.2,.3,.4,.5,.6], xs=.5, ys=.05, xf="d", yf=".1f", open_top=False,
         ty=1341, tx=404, gx=614, gy=(1532.7,1552.7), cap=(580,1590.7), sx=750.7, sy=(1426,1449.3,1472.7)),
]

FONT = "Liberation Serif"
INK = "#231f20"
DOT = "#2A97BD"
LINE = "#1380A8"
BAND = "rgba(120,200,225,0.6)"

fig = go.Figure()
shapes, notes = [], []

def note(x, y, text, size=16.5, anchor="center", angle=0):
    notes.append(dict(x=x / W, y=1 - y / H, xref="paper", yref="paper", text=text, showarrow=False,
                      xanchor=anchor, yanchor="middle", textangle=angle, align=anchor,
                      font=dict(family=FONT, size=size, color=INK)))

def steps(lo, hi, anchor, step):
    out, k = [], int((lo - anchor) / step) - 1
    while anchor + k * step <= hi:
        v = anchor + k * step
        if lo < v < hi:
            out.append(round(v, 4))
        k += 1
    return out

for i, p in enumerate(panels):
    n = i + 1
    sfx = "" if i == 0 else str(n)
    L, R, T, B = p["px"]
    common = dict(tickmode="array", showgrid=False, zeroline=False, showline=True, linecolor=INK, linewidth=2,
                  ticks="outside", ticklen=7, tickwidth=1.5, tickcolor=INK, automargin=False,
                  tickfont=dict(family=FONT, size=16.5, color=INK))
    xax = dict(domain=[L / W, R / W], range=list(p["xr"]), anchor="y" + sfx, tickvals=p["xt"], tickformat=p["xf"], ticklabelstandoff=-2, **common)
    yax = dict(domain=[1 - B / H, 1 - T / H], range=list(p["yr"]), anchor="x" + sfx, tickvals=p["yt"], tickformat=p["yf"], ticklabelstandoff=5, **common)
    fig.update_layout(**{"xaxis" + sfx: xax, "yaxis" + sfx: yax})

    fx, fy, fh = fit_x[i], fit_y[i], fit_half[i]
    fig.add_trace(go.Scatter(x=fx + fx[::-1], y=[a + b for a, b in zip(fy, fh)] + [a - b for a, b in zip(fy, fh)][::-1],
                             mode="lines", fill="toself", fillcolor=BAND, line=dict(width=0),
                             hoverinfo="skip", showlegend=False, xaxis="x" + sfx, yaxis="y" + sfx))
    fig.add_trace(go.Scatter(x=[a for a, _ in p["pts"]], y=[b for _, b in p["pts"]], mode="markers",
                             marker=dict(size=10.5, color=DOT, opacity=0.78, line=dict(width=0)),
                             showlegend=False, xaxis="x" + sfx, yaxis="y" + sfx))
    fig.add_trace(go.Scatter(x=fx, y=fy, mode="lines", line=dict(color=LINE, width=1.8),
                             showlegend=False, xaxis="x" + sfx, yaxis="y" + sfx))

    xref, yref = "x" + sfx, "y" + sfx
    for v in steps(p["xr"][0], p["xr"][1], p["xt"][0], p["xs"]):
        major = any(abs(v - t) < 1e-6 for t in p["xt"])
        shapes.append(dict(type="line", layer="above", xref=xref, yref=yref + " domain", x0=v, x1=v, y0=0, y1=1,
                           line=dict(color="#111111" if major else "#555555", width=1.3, dash="1.3px,8px")))
    for v in steps(p["yr"][0], p["yr"][1], p["yt"][0], p["ys"]):
        major = any(abs(v - t) < 1e-6 for t in p["yt"])
        shapes.append(dict(type="line", layer="above", xref=xref + " domain", yref=yref, x0=0, x1=1, y0=v, y1=v,
                           line=dict(color="#111111" if major else "#555555", width=1.3, dash="1.3px,8px")))
    shapes.append(dict(type="line", layer="above", xref=xref + " domain", yref=yref + " domain", x0=1, x1=1, y0=0, y1=1,
                       line=dict(color=INK, width=2)))
    if not p["open_top"]:
        shapes.append(dict(type="line", layer="above", xref=xref + " domain", yref=yref + " domain", x0=0, x1=1, y0=1, y1=1,
                           line=dict(color=INK, width=2)))

    note(p["tx"], p["ty"], "Enrichment of " + cell_titles[i], angle=-90)
    note(p["gx"], p["gy"][0], "The expression of " + gene_titles[i])
    note(p["gx"], p["gy"][1], "Log<sub>2</sub> (FPKM+1)")
    note(p["cap"][0], p["cap"][1], caption[i], size=15)
    note(p["sx"], p["sy"][0], "Spearman", anchor="right")
    note(p["sx"], p["sy"][1], "<i>r</i> = " + r_text[i], anchor="right")
    note(p["sx"], p["sy"][2], "<i>P</i> &lt; 0.001", anchor="right")

fig.update_layout(width=W, height=H, margin=dict(l=0, r=0, t=0, b=0), paper_bgcolor="white", plot_bgcolor="white",
                  showlegend=False, shapes=shapes, annotations=notes)
fig.write_html("out.html", config=dict(displayModeBar=False),
               post_script="document.body.style.margin='0';document.documentElement.style.overflow='hidden';")
